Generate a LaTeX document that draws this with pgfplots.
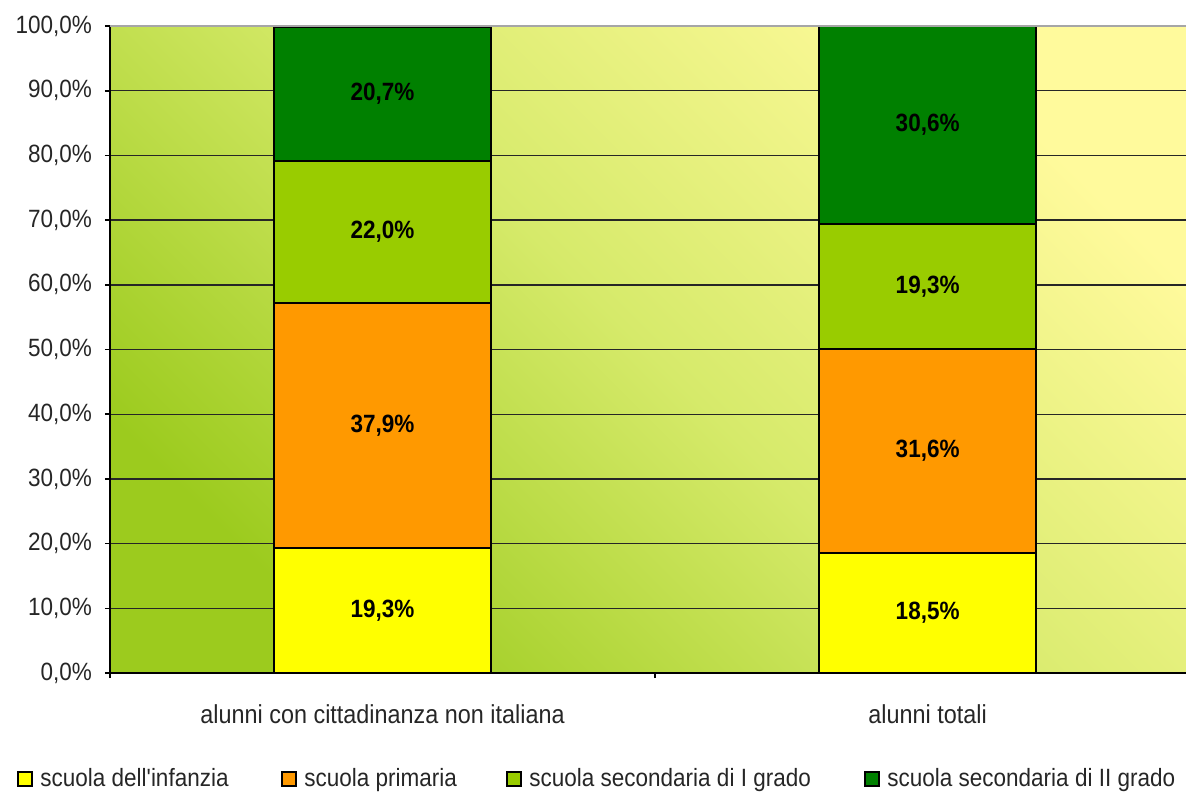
\documentclass[border=0pt]{standalone}
\usepackage{pgfplots}
\pgfplotsset{compat=1.18}
\usepackage{pgfplotstable}
\usepackage{fontspec}
\setmainfont{Liberation Sans}[FakeStretch=0.9, Ligatures=TeXOff]

\definecolor{cInf}{HTML}{FFFF00}
\definecolor{cPri}{HTML}{FF9900}
\definecolor{cSecA}{HTML}{99CC00}
\definecolor{cSecB}{HTML}{008000}
\definecolor{bgLL}{HTML}{9CCB1E}
\definecolor{bgUR}{HTML}{FFFA9C}
\definecolor{bgM}{HTML}{D6EA6A}

% percentuali per ordine di scuola
\pgfplotstableread{
x y
1 19.3
2 18.5
}\infanzia
\pgfplotstableread{
x y
1 37.9
2 31.6
}\primaria
\pgfplotstableread{
x y
1 22.0
2 19.3
}\secondaria
\pgfplotstableread{
x y
1 20.7
2 30.6
}\secondariaII

\newcommand{\lblfont}{\fontsize{12.5}{15}\selectfont}

\begin{document}
\begin{tikzpicture}
\useasboundingbox (-55pt,-60.5pt) rectangle (538pt,336.5pt);
\begin{axis}[
  at={(0,0)}, anchor=south west,
  scale only axis, width=538pt, height=323.5pt,
  ybar stacked, bar width=108.5pt,
  xmin=0.5, xmax=2.474, ymin=0, ymax=100,
  axis x line*=bottom, axis y line*=left,
  axis line style={black, line width=0.8pt},
  tick align=outside, major tick length=2.5pt,
  tick style={black, line width=0.8pt},
  xtick={0.5,1.5,2.5}, xticklabels={},
  extra x ticks={1,2},
  extra x tick labels={alunni con cittadinanza non italiana, alunni totali},
  extra x tick style={major tick length=0pt,
    xticklabel style={yshift=-12.5pt, font=\fontsize{13}{15}\selectfont}},
  ytick={0,10,...,100},
  yticklabel={\pgfmathprintnumber[fixed,fixed zerofill,precision=1,use comma]{\tick}\%},
  yticklabel style={xshift=-3pt},
  /pgf/number format/assume math mode=true,
  ymajorgrids, major grid style={black!85, line width=0.7pt},
  tick label style={font=\lblfont, text=black!85},
  axis background/.style={shade, top color=bgUR, bottom color=bgLL, middle color=bgM, shading angle=-45},
  point meta=explicit,
  nodes near coords={\pgfmathprintnumber[fixed,fixed zerofill,precision=1,use comma]{\pgfplotspointmeta}\%},
  nodes near coords align={anchor=center},
  every node near coord/.append style={font=\bfseries\lblfont, text=black},
  legend columns=-1,
  legend style={at={(-0.0864,-0.164)}, anchor=west, draw=none, fill=none, inner sep=0pt,
    font=\lblfont, nodes={inner xsep=3.5pt, text=black!85}},
  mybar/.style={fill=#1, draw=black, line width=1pt,
    legend image code/.code={\draw[##1, line width=1pt] (0pt,-3.5pt) rectangle (7pt,3.5pt);}},
  after end axis/.code={\draw[gray!70, line width=1pt] (rel axis cs:0,1) -- (rel axis cs:1,1);},
]
\addplot[mybar=cInf] table[meta=y] {\infanzia};
\addplot[mybar=cPri] table[meta=y] {\primaria};
\addplot[mybar=cSecA] table[meta=y] {\secondaria};
\addplot[mybar=cSecB] table[meta=y] {\secondariaII};
\legend{\makebox[117pt][l]{scuola dell'infanzia},
  \makebox[97.5pt][l]{scuola primaria},
  \makebox[164pt][l]{scuola secondaria di I grado},
  scuola secondaria di II grado}
\end{axis}
\end{tikzpicture}
\end{document}
